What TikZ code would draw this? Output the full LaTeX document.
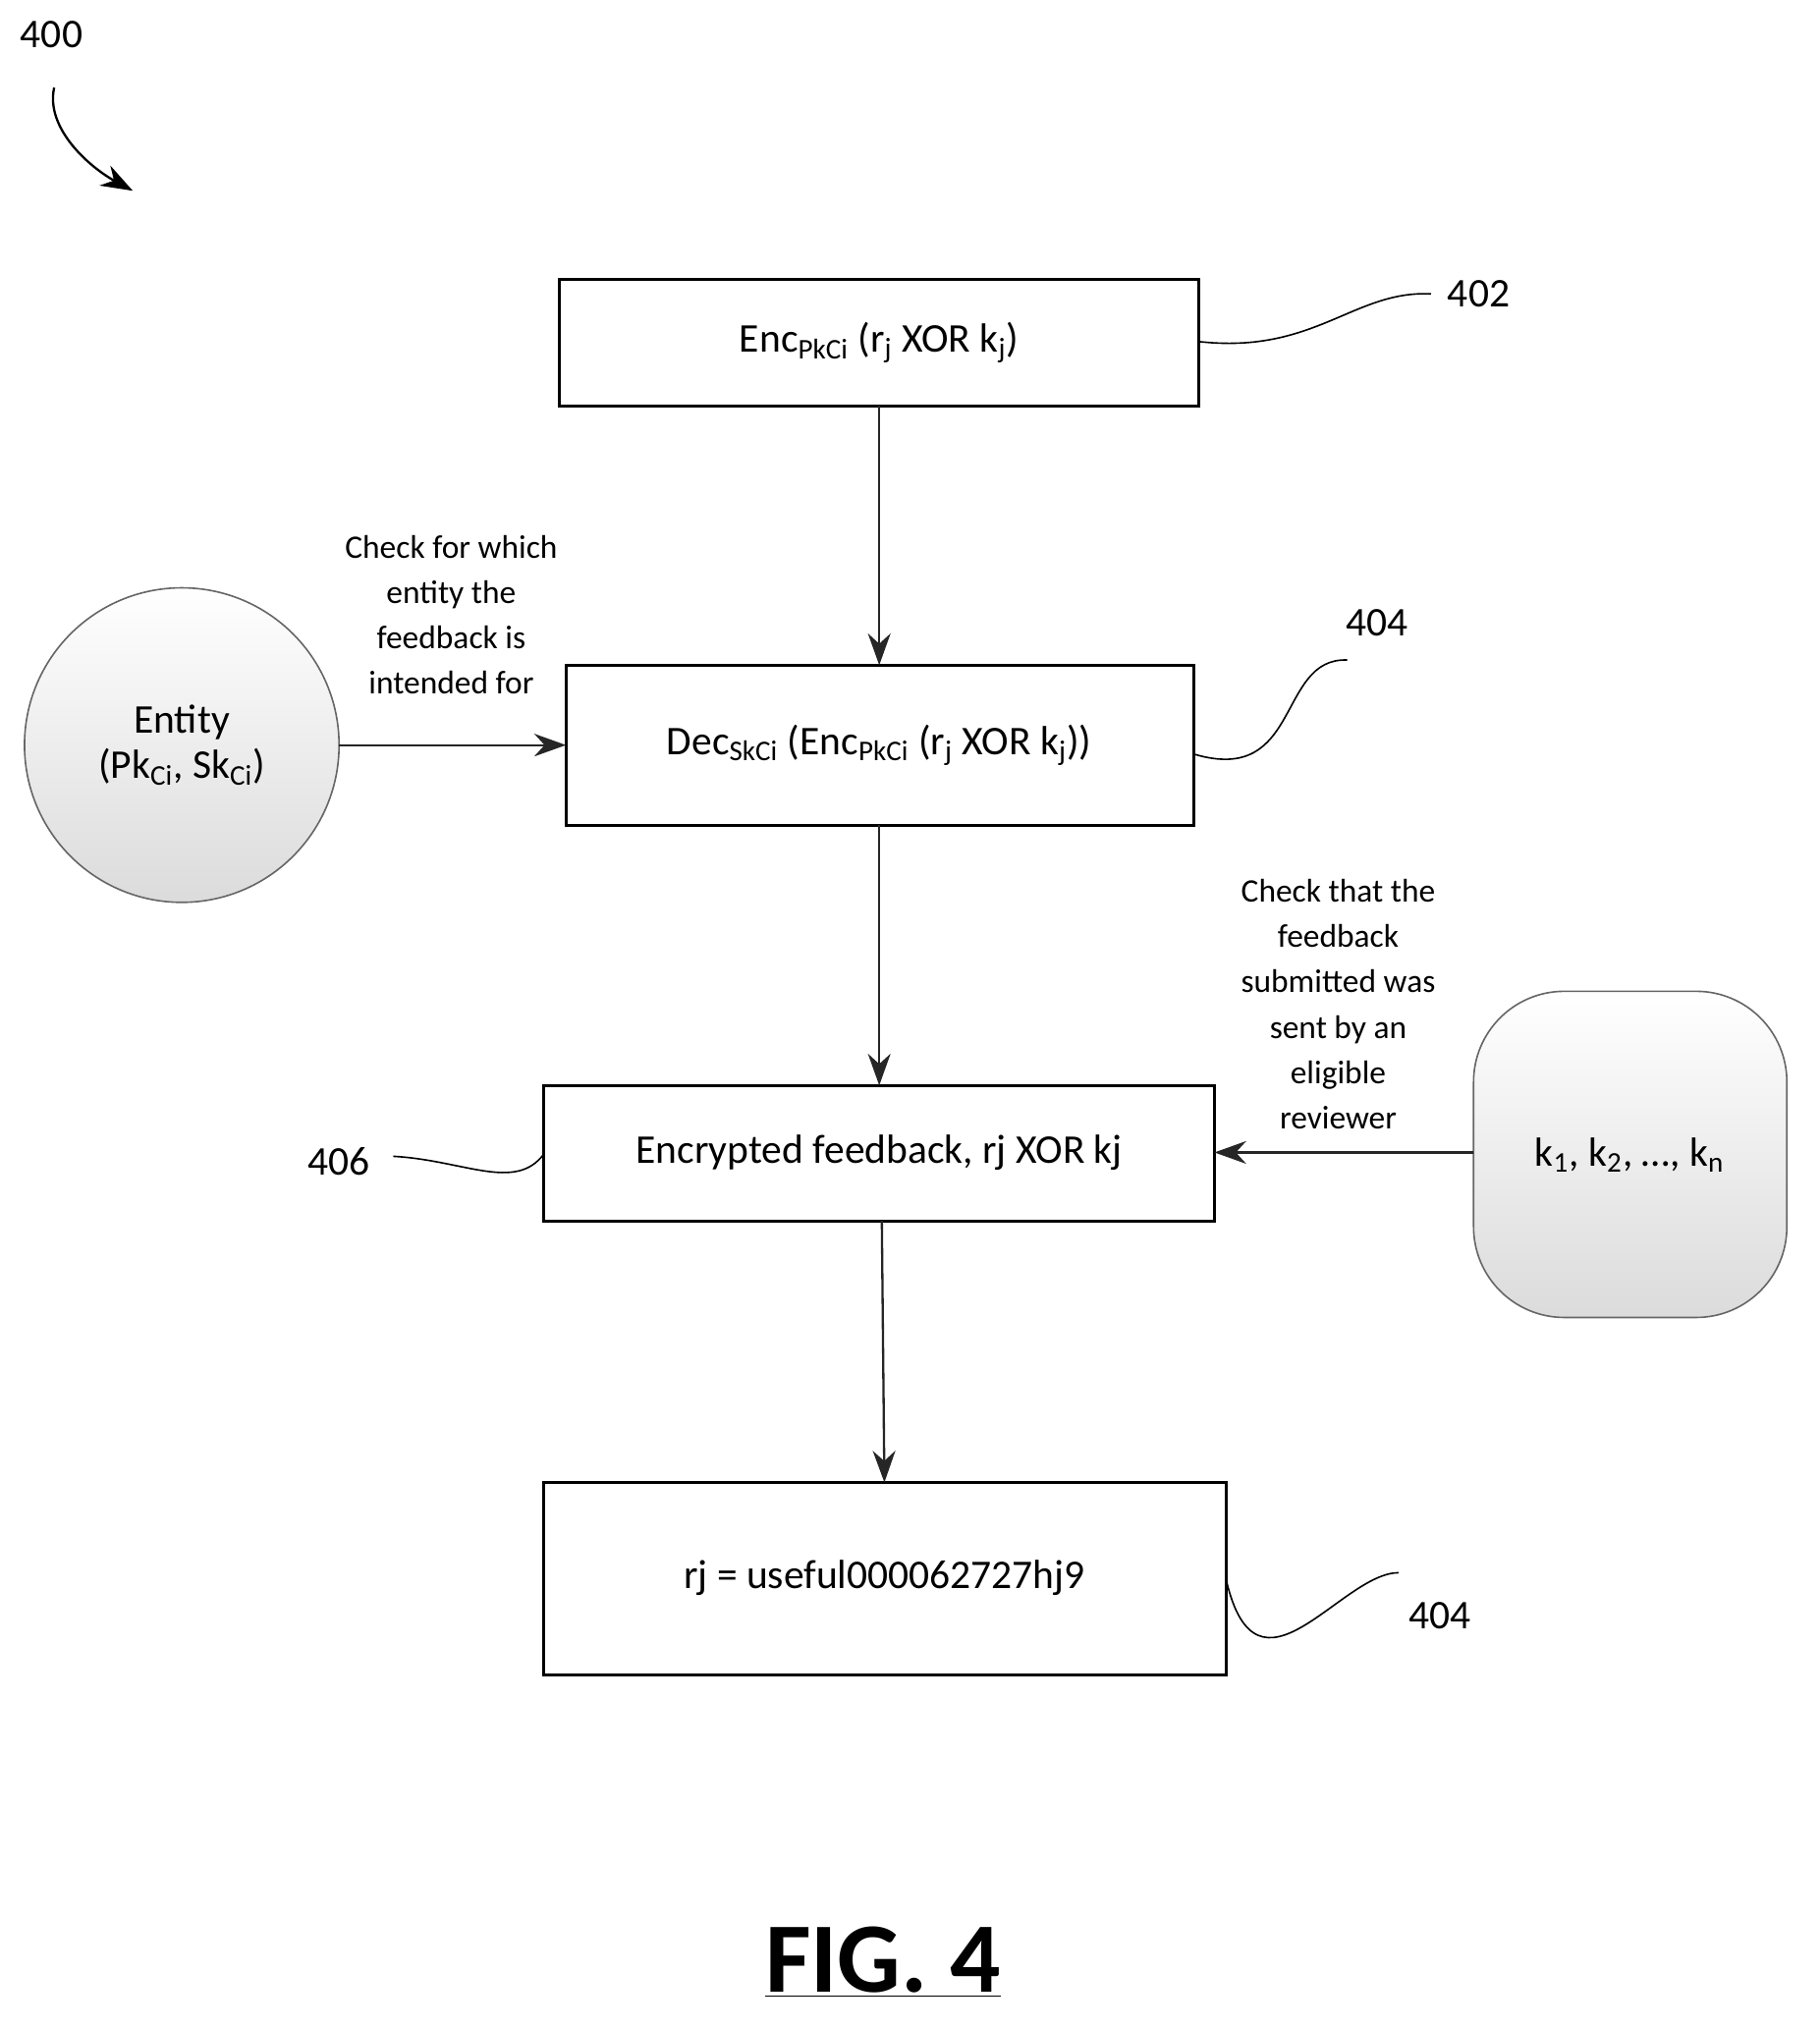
\documentclass[tikz,border=0pt]{standalone}
\usepackage{fontspec}
\setmainfont{Carlito}
\usetikzlibrary{arrows.meta}
\begin{document}
\begin{tikzpicture}[x=0.02cm,y=-0.02cm,
  box/.style={draw,line width=1.3pt,inner sep=0},
  arr/.style={-{Stealth[length=14pt,width=10pt]},line width=1pt,gray!30!black},
  lab/.style={font=\fontsize{18}{20}\selectfont},
  sm/.style={font=\fontsize{14.5}{20}\selectfont,align=center},
  wav/.style={line width=0.7pt}]
\useasboundingbox (0,0) rectangle (1411,1574);
\node[lab] (n400) at (40,27) {400};
\coordinate (a0) at (42,68); \coordinate (a1) at (103,148);
\draw[-{Stealth[length=14pt,width=10pt]},line width=1pt] (a0) .. controls (35,100) and (70,130) .. (a1);

\draw[box] (434,217) rectangle (930,315);
\node[lab] (b1) at (682,266) {Enc\textsubscript{PkCi} (r\textsubscript{j} XOR k\textsubscript{j})};
\node[lab] (l402) at (1147,228) {402};
\draw[wav] (930,265) .. controls (1020,275) and (1050,225) .. (1110,228);

\draw[box] (439,516) rectangle (926,640);
\node[lab] (b2) at (682,578) {Dec\textsubscript{SkCi} (Enc\textsubscript{PkCi} (r\textsubscript{j} XOR k\textsubscript{j}))};
\node[lab] (l404a) at (1068,483) {404};
\draw[wav] (926,585) .. controls (1010,610) and (990,510) .. (1045,512);

\shade[top color=white,bottom color=gray!28,draw=black!60,line width=0.7pt] (141,578) circle (122);
\node[lab,align=center] (ent) at (141,578) {Entity\\(Pk\textsubscript{Ci}, Sk\textsubscript{Ci})};
\coordinate (e1) at (263,578); \coordinate (e2) at (439,578);
\draw[arr] (e1) -- (e2);
\node[sm] (c1) at (350,477) {Check for which\\entity the\\feedback is\\intended for};

\draw[box] (422,842) rectangle (942,947);
\node[lab] (b3) at (682,894) {Encrypted feedback, rj XOR kj};
\node[lab] (l406) at (263,901) {406};
\draw[wav] (305,897) .. controls (360,900) and (400,925) .. (422,895);

\shade[top color=white,bottom color=gray!28,draw=black!60,line width=0.7pt,rounded corners=40] (1143,769) rectangle (1386,1022);
\node[lab] (kk) at (1264,896) {k\textsubscript{1}, k\textsubscript{2}, …, k\textsubscript{n}};
\coordinate (k1) at (1143,894); \coordinate (k2) at (942,894);
\draw[arr] (k1) -- (k2);
\node[sm] (c2) at (1038,779) {Check that the\\feedback\\submitted was\\sent by an\\eligible\\reviewer};

\draw[box] (422,1150) rectangle (951,1299);
\node[lab] (b4) at (686,1224) {rj = useful000062727hj9};
\node[lab] (l404b) at (1117,1253) {404};
\draw[wav] (951,1225) .. controls (975,1330) and (1040,1220) .. (1085,1220);

\coordinate (v1) at (682,315); \coordinate (v2) at (682,516);
\coordinate (v3) at (682,640); \coordinate (v4) at (682,842);
\coordinate (v5) at (684,947); \coordinate (v6) at (686,1150);
\draw[arr] (v1) -- (v2);
\draw[arr] (v3) -- (v4);
\draw[arr] (v5) -- (v6);

\node[font=\fontsize{44}{50}\selectfont\bfseries] (fig) at (685,1522) {\underline{FIG. 4}};
\end{tikzpicture}
\end{document}
